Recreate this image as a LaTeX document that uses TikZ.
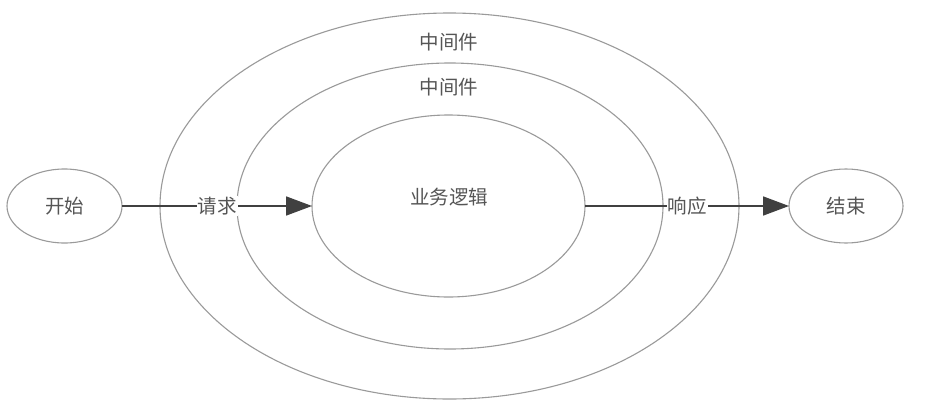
\documentclass[tikz,border=0pt]{standalone}
\usepackage{fontspec}
\setmainfont{Noto Sans CJK SC}
\usetikzlibrary{shapes.geometric,arrows.meta}
\definecolor{ringgray}{HTML}{9A9A9A}
\definecolor{textgray}{HTML}{555555}
\definecolor{linegray}{HTML}{404040}
\tikzset{
  ring/.style={ellipse, draw=ringgray, line width=1.1pt, inner sep=0pt, outer sep=0pt},
  lbl/.style={text=textgray, font=\fontsize{19.5}{21}\selectfont, inner sep=1pt},
  conn/.style={draw=linegray, line width=1.8pt, -{Triangle[length=26pt,width=19pt]}},
}
\begin{document}
\begin{tikzpicture}[x=1pt,y=-1pt]
\useasboundingbox[fill=white] (0,0) rectangle (929,418);
\node[ring, minimum width=579pt, minimum height=386pt] (outer) at (449.5,206) {};
\node[ring, minimum width=426pt, minimum height=286pt] (middle) at (450,206) {};
\node[ring, minimum width=273pt, minimum height=182pt] (inner) at (448.5,206) {};
\node[ring, minimum width=115pt, minimum height=74pt] (start) at (64.5,206) {};
\node[ring, minimum width=114pt, minimum height=74pt] (end) at (846,206) {};
\node[lbl] (startlbl) at (start) {开始};
\node[lbl] (endlbl) at (end) {结束};
\node[lbl] (outerlbl) at (449,42) {中间件};
\node[lbl] (middlelbl) at (449,87) {中间件};
\node[lbl] (innerlbl) at (449,197) {业务逻辑};
\draw[conn] (start) -- node[lbl, fill=white] (req) {请求} (inner);
\draw[conn] (inner) -- node[lbl, fill=white] (resp) {响应} (end);
\end{tikzpicture}
\end{document}
